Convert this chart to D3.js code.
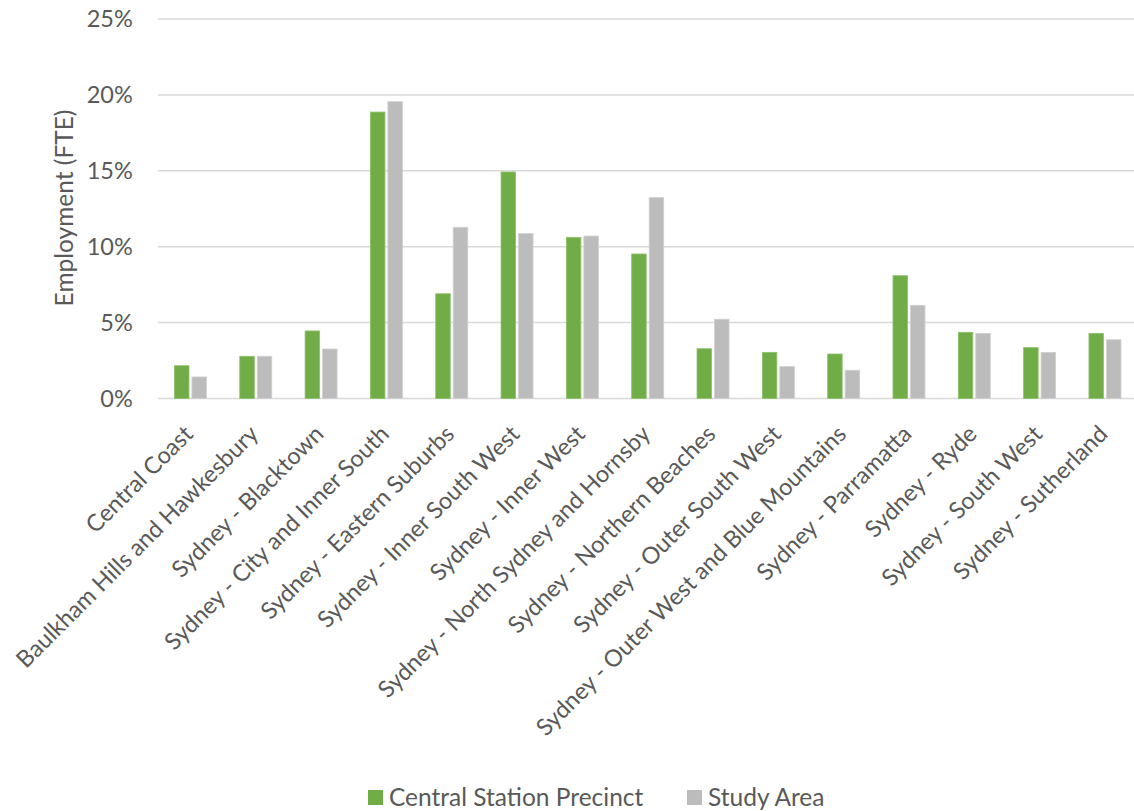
<!DOCTYPE html>
<html><head><meta charset="utf-8">
<script src="https://cdn.jsdelivr.net/npm/d3@7"></script>
<style>
body{margin:0;background:#fff;}
text{font-family:Lato, "Open Sans", sans-serif;fill:#595959;}
</style></head>
<body><svg id="c" width="1134" height="811"></svg>
<script>
const categories = ["Central Coast","Baulkham Hills and Hawkesbury","Sydney - Blacktown","Sydney - City and Inner South","Sydney - Eastern Suburbs","Sydney - Inner South West","Sydney - Inner West","Sydney - North Sydney and Hornsby","Sydney - Northern Beaches","Sydney - Outer South West","Sydney - Outer West and Blue Mountains","Sydney - Parramatta","Sydney - Ryde","Sydney - South West","Sydney - Sutherland"];
const centralStation = [2.16,2.78,4.45,18.87,6.9,14.92,10.62,9.52,3.28,3.04,2.93,8.09,4.36,3.35,4.29];
const studyArea = [1.42,2.78,3.26,19.55,11.28,10.86,10.7,13.23,5.22,2.1,1.86,6.14,4.29,3.04,3.87];
const seriesNames = ["Central Station Precinct","Study Area"];
const yTicks = [0,5,10,15,20,25];
const colors = ["#70AD47","#BCBCBC"];
const strokes = ["#8DC16A","#CFCFCF"];

const svg = d3.select("#c");
const pLeft=157.8,pRight=1137.6,pTop=19,pBottom=398.5;
const x = d3.scaleBand().domain(categories).range([pLeft,pRight]).paddingInner(0).paddingOuter(0);
const y = d3.scaleLinear().domain([0,25]).range([pBottom,pTop]);
const inner = d3.scaleBand().domain(seriesNames).range([x.bandwidth()/2-16, x.bandwidth()/2+16]).paddingInner(0.171);

// gridlines
svg.append("g").selectAll("line").data(yTicks).join("line")
  .attr("x1",pLeft).attr("x2",pRight).attr("y1",d=>y(d)).attr("y2",d=>y(d))
  .attr("stroke","#D9D9D9").attr("stroke-width",1.5);

// y axis labels
const yAxis = d3.axisLeft(y).tickValues(yTicks).tickFormat(d=>d+"%").tickSize(0).tickPadding(25);
const ya = svg.append("g").attr("transform",`translate(${pLeft},0)`).call(yAxis);
ya.select(".domain").remove();
ya.selectAll("text").style("font-size","23.5px").attr("fill","#595959").style("font-family","Lato, 'Open Sans', sans-serif");

// bars
const data = categories.map((c,i)=>({c, v:[centralStation[i],studyArea[i]]}));
const g = svg.append("g").selectAll("g").data(data).join("g").attr("transform",d=>`translate(${x(d.c)},0)`);
g.selectAll("rect").data(d=>d.v.map((v,j)=>({v,s:seriesNames[j],j}))).join("rect")
  .attr("x",d=>inner(d.s)).attr("width",inner.bandwidth())
  .attr("y",d=>y(d.v)).attr("height",d=>pBottom-y(d.v))
  .attr("fill",d=>colors[d.j]).attr("stroke",d=>strokes[d.j]).attr("stroke-width",0.8);

// x labels
const xAxis = d3.axisBottom(x).tickSize(0).tickPadding(0);
const xa = svg.append("g").attr("transform",`translate(0,${pBottom})`).call(xAxis);
xa.select(".domain").remove();
xa.selectAll("text").style("font-size","23.5px").attr("fill","#595959").style("font-family","Lato, 'Open Sans', sans-serif")
  .attr("text-anchor","end").attr("dy","0").attr("y",0)
  .attr("transform","translate(4,37) rotate(-45)");

// y title
svg.append("text").attr("transform","translate(73,208) rotate(-90)").attr("text-anchor","middle")
  .style("font-size","24.5px").text("Employment (FTE)");

// legend
const leg = svg.append("g");
const legX=[368,687];
seriesNames.forEach((s,i)=>{
  leg.append("rect").attr("x",legX[i]).attr("y",790).attr("width",15).attr("height",15).attr("fill",colors[i]);
  leg.append("text").attr("x",legX[i]+21).attr("y",806).style("font-size","24.5px").text(s);
});
</script></body></html>
